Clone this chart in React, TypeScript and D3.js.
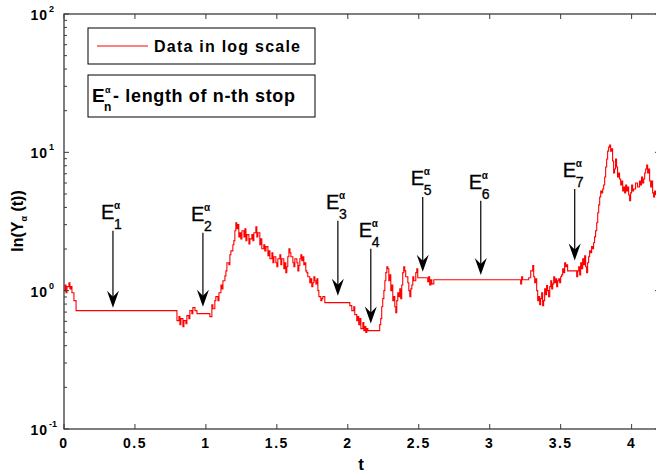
import React from 'react';
import * as d3 from 'd3';

// time (t) and value Y for the stopped process
const tVals = [
  0, 0.007, 0.014, 0.021, 0.035, 0.042, 0.049, 0.056, 0.07, 0.085,
  0.796, 0.81, 0.817, 0.824, 0.838, 0.845, 0.859, 0.866, 0.88, 0.887, 0.901, 0.908, 0.923, 0.937,
  1.028, 1.042, 1.049, 1.063, 1.07, 1.085, 1.092, 1.106, 1.113, 1.12, 1.134, 1.141, 1.148, 1.162,
  1.169, 1.176, 1.19, 1.197, 1.204, 1.211, 1.218, 1.225, 1.232, 1.239, 1.246, 1.254, 1.268, 1.275,
  1.282, 1.289, 1.303, 1.31, 1.324, 1.331, 1.338, 1.352, 1.359, 1.366, 1.38, 1.387, 1.394, 1.408,
  1.415, 1.423, 1.437, 1.444, 1.451, 1.465, 1.472, 1.479, 1.493, 1.5, 1.507, 1.521, 1.528, 1.535,
  1.549, 1.556, 1.563, 1.57, 1.577, 1.585, 1.592, 1.599, 1.613, 1.62, 1.627, 1.641, 1.648, 1.655,
  1.662, 1.669, 1.676, 1.683, 1.69, 1.697, 1.704, 1.711, 1.718, 1.732, 1.739, 1.746, 1.754, 1.761,
  1.768, 1.775, 1.782, 1.789, 1.796, 1.81, 1.817, 1.824, 1.838,
  2.014, 2.028, 2.042, 2.049, 2.063, 2.07, 2.077, 2.085, 2.092, 2.106, 2.113, 2.12, 2.127, 2.134, 2.141,
  2.225, 2.232, 2.239, 2.246, 2.254, 2.261, 2.268, 2.275, 2.282, 2.289, 2.296, 2.303, 2.31, 2.317,
  2.324, 2.331, 2.338, 2.345, 2.352, 2.359, 2.366, 2.373, 2.38, 2.387, 2.394, 2.401, 2.408, 2.423,
  2.43, 2.437, 2.444, 2.451, 2.458, 2.465, 2.479, 2.486, 2.493,
  2.563, 2.57, 2.577, 2.585, 2.592, 2.606,
  3.218, 3.225, 3.232, 3.275, 3.289, 3.303, 3.31, 3.317, 3.324, 3.331, 3.338, 3.345, 3.352, 3.359,
  3.366, 3.373, 3.38, 3.387, 3.394, 3.401, 3.408, 3.415, 3.423, 3.43, 3.437, 3.444, 3.451, 3.458,
  3.465, 3.472, 3.479, 3.486, 3.493, 3.5, 3.507, 3.514, 3.521, 3.528, 3.535, 3.542, 3.549,
  3.613, 3.62, 3.627, 3.634, 3.641, 3.648, 3.655, 3.662, 3.669, 3.676, 3.683, 3.69, 3.697, 3.704,
  3.711, 3.718, 3.725, 3.732, 3.739, 3.746, 3.754, 3.761, 3.768, 3.775, 3.782, 3.789, 3.796, 3.803,
  3.81, 3.817, 3.824, 3.831, 3.838, 3.845, 3.852, 3.859, 3.866, 3.873, 3.88, 3.887, 3.894, 3.901,
  3.908, 3.915, 3.923, 3.93, 3.937, 3.944, 3.951, 3.958, 3.965, 3.972, 3.979, 3.986, 3.993, 4.0,
  4.007, 4.014, 4.028, 4.042, 4.056, 4.063, 4.07, 4.077, 4.085, 4.092, 4.099, 4.106, 4.113, 4.12,
  4.127, 4.134, 4.141, 4.148, 4.155, 4.162, 4.169,
];

const yVals = [
  1.0, 1.1, 0.967, 1.07, 1.14, 1.03, 1.07, 0.967, 0.847, 0.717,
  0.607, 0.649, 0.568, 0.628, 0.55, 0.607, 0.578, 0.66, 0.628, 0.717, 0.682, 0.754, 0.717, 0.682,
  0.649, 0.792, 0.741, 0.847, 0.905, 0.847, 0.967, 1.1, 1.03, 1.18, 1.28, 1.39, 1.59, 1.54,
  1.82, 1.94, 2.15, 2.3, 2.71, 3.1, 2.8, 3.0, 2.45, 2.62, 2.37, 2.71, 2.45, 2.8,
  2.3, 2.54, 2.18, 2.37, 2.54, 2.3, 2.62, 2.9, 2.45, 2.62, 2.15, 2.37, 2.01, 2.15,
  1.94, 2.08, 1.79, 1.94, 1.7, 1.88, 1.59, 1.76, 1.59, 1.49, 1.7, 1.82, 1.54, 1.7,
  1.44, 1.59, 1.35, 1.49, 1.76, 2.01, 1.88, 1.76, 1.59, 1.49, 1.7, 1.59, 1.39, 1.52,
  1.7, 1.82, 1.65, 1.76, 1.54, 1.59, 1.39, 1.35, 1.26, 1.14, 1.22, 1.07, 1.14, 1.26,
  1.18, 1.12, 1.22, 1.0, 0.905, 0.847, 0.876, 0.905, 0.819,
  0.779, 0.717, 0.766, 0.671, 0.607, 0.649, 0.568, 0.628, 0.532, 0.588, 0.514, 0.55, 0.498, 0.532, 0.514,
  0.568, 0.628, 0.766, 0.876, 1.0, 1.18, 1.35, 1.49, 1.44, 1.18, 1.3, 1.0, 1.1, 0.847,
  0.905, 0.766, 0.694, 0.847, 0.967, 0.905, 1.03, 0.876, 1.1, 1.35, 1.49, 1.39, 1.26, 1.14,
  1.0, 0.905, 1.03, 1.1, 1.26, 1.18, 1.35, 1.44, 1.24,
  1.16, 1.26, 1.1, 1.2, 1.12, 1.2,
  1.12, 1.26, 1.2, 1.24, 1.39, 1.52, 1.26, 1.14, 1.22, 1.0, 0.847, 0.905, 0.792, 0.876,
  0.967, 0.779, 0.847, 1.03, 0.936, 1.09, 1.0, 0.905, 1.07, 1.18, 1.03, 1.12, 1.26, 1.14,
  1.22, 1.07, 1.18, 1.22, 1.14, 1.26, 1.3, 1.44, 1.35, 1.59, 1.49, 1.54, 1.39,
  1.26, 1.39, 1.49, 1.3, 1.59, 1.44, 1.7, 1.54, 1.79, 1.49, 1.35, 1.59, 1.76, 1.94,
  1.88, 2.08, 2.01, 2.22, 2.45, 2.71, 3.1, 3.66, 4.17, 4.76, 5.26, 5.09, 5.43, 5.81,
  6.63, 7.83, 8.94, 10.2, 10.9, 11.3, 10.2, 10.6, 8.65, 7.09, 7.57, 8.94, 7.83, 6.63,
  7.09, 6.41, 5.81, 6.2, 5.26, 5.62, 5.09, 5.81, 5.26, 5.62, 4.92, 4.47, 5.09, 5.81,
  5.26, 5.43, 6.0, 5.62, 6.2, 5.81, 6.63, 6.0, 6.41, 7.09, 7.57, 8.09, 7.09, 7.57,
  6.2, 5.62, 6.2, 5.09, 4.76, 5.26, 4.92,
];

// stop annotations: subscript, t of the arrow, top of the shaft and arrow tip (in Y units)
const stopLabels = ['1', '2', '3', '4', '5', '6', '7'];
const stopT = [0.345, 0.979, 1.93, 2.162, 2.528, 2.937, 3.599];
const stopTop = [2.71, 2.62, 3.2, 2.01, 4.76, 4.47, 5.43];
const stopTip = [0.754, 0.766, 0.92, 0.578, 1.37, 1.3, 1.65];

const xTicks = [0, 0.5, 1, 1.5, 2, 2.5, 3, 3.5, 4];
const xTickLabels = ['0', '0.5', '1', '1.5', '2', '2.5', '3', '3.5', '4'];
const yDecades = [0.1, 1, 10, 100];
const yExponents = ['-1', '0', '1', '2'];

const W = 656;
const H = 475;
const FONT = '"Liberation Sans", Arial, Helvetica, sans-serif';

export default function App() {
  const left = 64;
  const right = 660;
  const top = 14;
  const bottom = 429;

  const x = d3.scaleLinear().domain([0, 4.2]).range([left, right]);
  const y = d3.scaleLog().domain([0.1, 100]).range([bottom, top]);

  const data = tVals.map((t, i) => ({ t, v: yVals[i] }));
  const line = d3
    .line<{ t: number; v: number }>()
    .x((d) => x(d.t))
    .y((d) => y(d.v))
    .curve(d3.curveStepAfter);

  const minor: number[] = [];
  yDecades.slice(0, 3).forEach((d) => {
    for (let k = 2; k <= 9; k++) minor.push(d * k);
  });

  const axisColor = '#3a3a3a';

  return (
    <svg
      width={W}
      height={H}
      style={{ position: 'absolute', left: 0, top: 0, background: '#fff' }}
      fontFamily={FONT}
    >
      <rect x={0} y={0} width={W} height={H} fill="#fff" />

      {/* data */}
      <path d={line(data) || ''} fill="none" stroke="#ff0000" strokeWidth={1.1} />

      {/* axes box */}
      <rect
        x={left}
        y={top}
        width={right - left}
        height={bottom - top}
        fill="none"
        stroke={axisColor}
        strokeWidth={1.3}
      />

      {/* x ticks */}
      {xTicks.map((t, i) => (
        <g key={'xt' + i}>
          <line x1={x(t)} x2={x(t)} y1={bottom} y2={bottom - 5} stroke={axisColor} />
          <line x1={x(t)} x2={x(t)} y1={top} y2={top + 5} stroke={axisColor} />
          <text
            x={x(t)}
            y={448}
            textAnchor="middle"
            fontSize={14}
            fontWeight="bold"
            letterSpacing={1.5}
            fill="#000"
          >
            {xTickLabels[i]}
          </text>
        </g>
      ))}

      {/* y ticks */}
      {yDecades.map((d, i) => (
        <g key={'yt' + i}>
          <line x1={left} x2={left + 5} y1={y(d)} y2={y(d)} stroke={axisColor} />
          <line x1={right} x2={right - 5} y1={y(d)} y2={y(d)} stroke={axisColor} />
          <text
            x={48}
            y={y(d) + 6}
            textAnchor="end"
            fontSize={14}
            fontWeight="bold"
            letterSpacing={1}
            fill="#000"
          >
            10
          </text>
          <text x={49} y={y(d) - 2} fontSize={9} fontWeight="bold" fill="#000">
            {yExponents[i]}
          </text>
        </g>
      ))}
      {minor.map((m, i) => (
        <g key={'ym' + i}>
          <line x1={left} x2={left + 3} y1={y(m)} y2={y(m)} stroke={axisColor} />
          <line x1={right} x2={right - 3} y1={y(m)} y2={y(m)} stroke={axisColor} />
        </g>
      ))}

      {/* axis labels */}
      <text x={361} y={470} textAnchor="middle" fontSize={17} fontWeight="bold" fill="#000">
        t
      </text>
      <text
        transform="translate(23,221) rotate(-90)"
        textAnchor="middle"
        fontSize={16}
        fontWeight="bold"
        fill="#000"
      >
        ln(Y
        <tspan fontSize={9} dy={4}>
          α
        </tspan>
        <tspan dy={-4}> (t))</tspan>
      </text>

      {/* stop arrows */}
      {stopT.map((t, i) => {
        const ax = x(t);
        const y0 = y(stopTop[i]);
        const y1 = y(stopTip[i]);
        return (
          <g key={'st' + i}>
            <line x1={ax} x2={ax} y1={y0} y2={y1 - 4} stroke="#000" strokeWidth={1.2} />
            <path
              d={`M${ax},${y1} L${ax - 6},${y1 - 17} L${ax},${y1 - 11} L${ax + 6},${y1 - 17} Z`}
              fill="#000"
            />
            <text
              x={ax - 12}
              y={y0 - 12}
              fontSize={20}
              fill="#000"
              stroke="#000"
              strokeWidth={0.3}
            >
              E
            </text>
            <text
              x={ax + 1}
              y={y0 - 2}
              fontSize={14}
              fill="#000"
              stroke="#000"
              strokeWidth={0.3}
            >
              {stopLabels[i]}
            </text>
            <text x={ax + 1} y={y0 - 22} fontSize={10} fontWeight="bold" fill="#000">
              α
            </text>
          </g>
        );
      })}

      {/* legend boxes */}
      <rect x={88} y={28} width={227} height={36} fill="#fff" stroke="#000" strokeWidth={1} />
      <line x1={97} x2={148} y1={46} y2={46} stroke="#ff0000" strokeWidth={1} />
      <text
        x={154}
        y={52}
        fontSize={16}
        fontWeight="bold"
        textLength={146}
        lengthAdjust="spacing"
        fill="#000"
      >
        Data in log scale
      </text>

      <rect x={88} y={75} width={227} height={42} fill="#fff" stroke="#000" strokeWidth={1} />
      <text x={92} y={102} fontSize={19} fontWeight="bold" fill="#000">
        E
      </text>
      <text x={105} y={93} fontSize={9} fontWeight="bold" fill="#000">
        α
      </text>
      <text x={104} y={111} fontSize={12} fontWeight="bold" fill="#000">
        n
      </text>
      <text
        x={113}
        y={102}
        fontSize={18}
        fontWeight="bold"
        textLength={182}
        lengthAdjust="spacing"
        fill="#000"
      >
        - length of n-th stop
      </text>
    </svg>
  );
}
